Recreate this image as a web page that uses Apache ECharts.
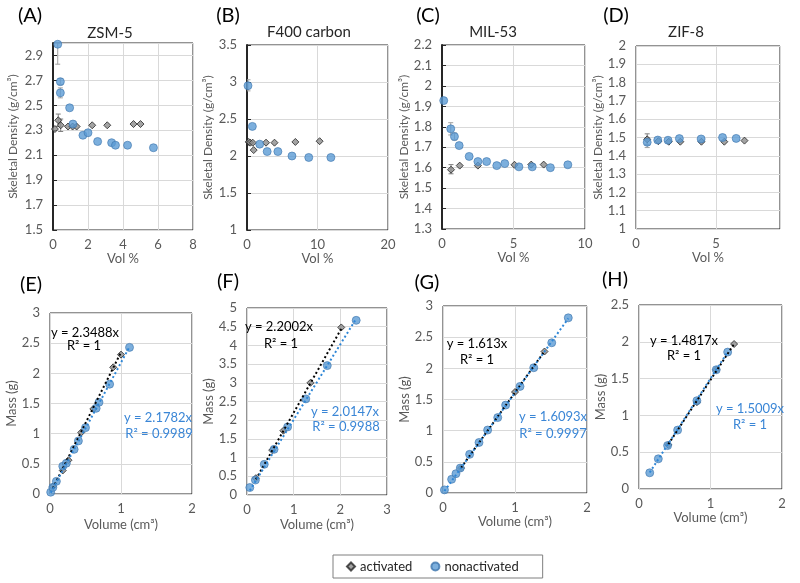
<!DOCTYPE html>
<html>
<head>
<meta charset="utf-8">
<script src="https://cdn.jsdelivr.net/npm/echarts@6/dist/echarts.min.js"></script>
<style>html,body{margin:0;padding:0;background:#fff}#c{width:800px;height:583px}</style>
</head>
<body>
<div id="c"></div>
<script>
// ---------- DATA ----------
// (A) ZSM-5  [vol %, skeletal density]
const zsm5Activated = [[0.11,2.31],[0.3,2.38],[0.44,2.34],[0.86,2.33],[1.12,2.33],[1.35,2.33],[2.24,2.34],[3.1,2.34],[4.6,2.35],[5.0,2.35]];
const zsm5Non = [[0.27,2.99],[0.42,2.69],[0.42,2.6],[0.95,2.48],[1.14,2.35],[1.71,2.26],[2.0,2.28],[2.55,2.21],[3.35,2.2],[3.57,2.18],[4.26,2.18],[5.74,2.16]];
const zsm5ActErr = [[0.3,2.33,2.43],[0.44,2.29,2.39]];
const zsm5NonErr = [[0.27,2.83,3.0],[0.42,2.665,2.715],[0.42,2.56,2.64]];
// (B) F400 carbon
const f400Activated = [[0.24,2.19],[0.45,2.18],[0.81,2.18],[0.95,2.08],[2.7,2.18],[3.9,2.18],[6.86,2.19],[10.3,2.2]];
const f400Non = [[0.14,2.95],[0.76,2.4],[1.8,2.16],[2.86,2.06],[4.38,2.06],[6.38,2.0],[8.76,1.98],[11.9,1.98]];
const f400ActErr = [];
const f400NonErr = [[0.14,2.88,3.03]];
// (C) MIL-53
const mil53Activated = [[0.63,1.59],[1.24,1.61],[2.51,1.61],[5.07,1.614],[6.24,1.615],[7.11,1.615]];
const mil53Non = [[0.12,1.928],[0.61,1.79],[0.87,1.752],[1.2,1.708],[1.9,1.655],[2.51,1.63],[3.12,1.63],[3.83,1.61],[4.39,1.62],[5.38,1.604],[6.31,1.604],[7.58,1.6],[8.8,1.614]];
const mil53ActErr = [[0.63,1.57,1.615]];
const mil53NonErr = [[0.61,1.76,1.82],[0.87,1.735,1.77]];
// (D) ZIF-8
const zif8Activated = [[0.7,1.49],[1.4,1.48],[2.05,1.477],[2.77,1.477],[4.09,1.477],[5.52,1.477],[6.78,1.483]];
const zif8Non = [[0.7,1.474],[1.36,1.486],[2.0,1.485],[2.71,1.494],[4.07,1.492],[5.41,1.5],[6.26,1.495]];
const zif8ActErr = [[0.7,1.46,1.52]];
const zif8NonErr = [[0.7,1.445,1.5]];
// (E)-(H) mass vs volume  [volume cm3, mass g]
const zsm5MassAct = [[0.04,0.12],[0.18,0.39],[0.26,0.56],[0.44,1.02],[0.61,1.41],[0.89,2.1],[1.0,2.31]];
const zsm5MassNon = [[0.01,0.03],[0.04,0.11],[0.09,0.21],[0.18,0.46],[0.23,0.51],[0.34,0.74],[0.4,0.88],[0.5,1.1],[0.65,1.42],[0.69,1.52],[0.84,1.82],[1.12,2.43]];
const f400MassAct = [[0.19,0.45],[0.54,1.2],[0.78,1.72],[1.36,3.0],[2.02,4.48]];
const f400MassNon = [[0.06,0.2],[0.18,0.4],[0.37,0.82],[0.58,1.22],[0.87,1.82],[1.26,2.57],[1.72,3.46],[2.34,4.67]];
const mil53MassAct = [[0.25,0.4],[1.0,1.62],[1.41,2.27]];
const mil53MassNon = [[0.02,0.05],[0.12,0.22],[0.18,0.31],[0.24,0.4],[0.37,0.62],[0.5,0.81],[0.62,1.01],[0.76,1.21],[0.87,1.41],[1.07,1.71],[1.26,2.01],[1.51,2.41],[1.74,2.81]];
const zif8MassAct = [[0.41,0.6],[0.81,1.18],[1.08,1.62],[1.33,1.97]];
const zif8MassNon = [[0.15,0.22],[0.27,0.41],[0.4,0.59],[0.54,0.8],[0.81,1.2],[1.08,1.62],[1.24,1.86]];
// trendline fits
const slopesActivated = [2.3488, 2.2002, 1.613, 1.4817];
const slopesNon = [2.1782, 2.0147, 1.6093, 1.5009];
const r2Activated = ['1', '1', '1', '1'];
const r2Non = ['0.9989', '0.9988', '0.9997', '1'];
// labels
const panelLetters = ['(A)','(B)','(C)','(D)','(E)','(F)','(G)','(H)'];
const panelTitles = ['ZSM-5','F400 carbon','MIL-53','ZIF-8'];
// axis ranges [min, max, interval]
const xRanges = [[0,8,2],[0,20,10],[0,10,5],[0,9,5],[0,2,1],[0,3,1],[0,2,1],[0,2,1]];
const yRanges = [[1.5,3.0,0.2],[1,3.5,0.5],[1.3,2.2,0.1],[1,2,0.1],[0,3,0.5],[0,5,0.5],[0,3,0.5],[0,2.5,0.5]];

// ---------- LAYOUT ----------
const FONT = 'Lato';
const grids = [
  {left:53, top:43, width:140, height:187},
  {left:247, top:45, width:141, height:185},
  {left:442, top:45, width:143, height:184},
  {left:636, top:46, width:144, height:183},
  {left:50, top:313, width:142, height:181},
  {left:247, top:308, width:140, height:187},
  {left:443, top:306, width:144, height:187},
  {left:639, top:305, width:143, height:184}
];
const yNameGap = [34,33,30,31,32,27,28,29];
const xNameGap = [22,22,22,22,24,23,17,20];
const thickY = [true,true,true,false,false,false,false,false];
const letterPos = [[30,16],[228,16],[428,16],[616,16],[31,285],[228,282],[427,283],[615,280]];
const titlePos = [[110,33],[309,32],[493,32],[686,32]];
const blueText = '#3a86d6';
const labelPos = [
  [[85,333],[84,346],[158,418],[159,434]],
  [[279,327],[281,344],[345,412],[346,427]],
  [[477,344],[477,360],[553,417],[553,434]],
  [[684,341],[684,356],[750,409],[750,425]]
];

const actStyle = {color:'#8c8c8c', borderColor:'#262626', borderWidth:1};
const nonStyle = {color:'#5b9bd5', borderColor:'#3f76ad', borderWidth:0.8};

const xAxes = [], yAxes = [], seriesList = [], graphics = [];
const tickText = {color:'#595959', fontFamily:FONT, fontSize:13};
const nameText = {color:'#595959', fontFamily:FONT, fontSize:13};
const longNameText = {color:'#595959', fontFamily:FONT, fontSize:12};
for (let i = 0; i < 8; i++) {
  const isTop = i < 4;
  xAxes.push({
    gridIndex:i, type:'value', min:xRanges[i][0], max:xRanges[i][1], interval:xRanges[i][2],
    name: isTop ? 'Vol %' : 'Volume (cm³)', nameLocation:'middle', nameGap:xNameGap[i],
    nameTextStyle:nameText,
    axisLine:{show:false}, axisTick:{show:false},
    axisLabel:Object.assign({margin:8, showMaxLabel: i !== 3}, tickText),
    splitLine:{show:true, lineStyle:{color:'#d9d9d9', width:1}}
  });
  yAxes.push({
    gridIndex:i, type:'value', min:yRanges[i][0], max:yRanges[i][1], interval:yRanges[i][2],
    name: isTop ? 'Skeletal Density (g/cm³)' : 'Mass (g)', nameLocation:'middle', nameGap:yNameGap[i],
    nameTextStyle: isTop ? longNameText : nameText,
    axisLine:{show:thickY[i], lineStyle:{color:'#262626', width:2}},
    axisTick:{show:thickY[i], inside:true, length:4, lineStyle:{color:'#262626'}},
    axisLabel:Object.assign({margin:10, showMaxLabel: i !== 0}, tickText),
    splitLine:{show:true, lineStyle:{color:'#d9d9d9', width:1}}
  });
  graphics.push({type:'text', x:letterPos[i][0], y:letterPos[i][1],
    style:{text:panelLetters[i], fill:'#000', font:'20px "'+FONT+'"', textAlign:'center', textVerticalAlign:'middle'}});
}
for (let i = 0; i < 4; i++) {
  graphics.push({type:'text', x:titlePos[i][0], y:titlePos[i][1],
    style:{text:panelTitles[i], fill:'#262626', font:'15px "'+FONT+'"', textAlign:'center', textVerticalAlign:'middle'}});
}

function errSeries(i, data, color) {
  return {
    type:'custom', xAxisIndex:i, yAxisIndex:i, data:data, silent:true, z:1, clip:true,
    renderItem:function(params, api){
      const x = api.value(0), lo = api.value(1), hi = api.value(2);
      const p1 = api.coord([x, lo]), p2 = api.coord([x, hi]);
      const c = 2.5, st = {stroke:color, lineWidth:1};
      return {type:'group', children:[
        {type:'line', shape:{x1:p1[0], y1:p1[1], x2:p2[0], y2:p2[1]}, style:st},
        {type:'line', shape:{x1:p1[0]-c, y1:p1[1], x2:p1[0]+c, y2:p1[1]}, style:st},
        {type:'line', shape:{x1:p2[0]-c, y1:p2[1], x2:p2[0]+c, y2:p2[1]}, style:st}
      ]};
    }
  };
}
function scatter(i, name, data, isAct) {
  return {type:'scatter', name:name, xAxisIndex:i, yAxisIndex:i, data:data,
    symbol: isAct ? 'diamond' : 'circle', symbolSize: isAct ? 7 : 8,
    itemStyle: isAct ? actStyle : nonStyle, z: isAct ? 3 : 4, emphasis:{disabled:true}};
}
function trend(i, data, slope, color) {
  const xs = data.map(d => d[0]);
  const x0 = Math.min.apply(null, xs), x1 = Math.max.apply(null, xs);
  return {type:'line', xAxisIndex:i, yAxisIndex:i, data:[[x0, slope*x0],[x1, slope*x1]],
    showSymbol:false, symbol:'none', silent:true, z:5,
    lineStyle:{color:color, width:2, type:[2,2.5]}};
}

const topPanels = [
  [zsm5Activated, zsm5Non, zsm5ActErr, zsm5NonErr],
  [f400Activated, f400Non, f400ActErr, f400NonErr],
  [mil53Activated, mil53Non, mil53ActErr, mil53NonErr],
  [zif8Activated, zif8Non, zif8ActErr, zif8NonErr]
];
topPanels.forEach((p, i) => {
  seriesList.push(errSeries(i, p[2], '#7f7f7f'));
  seriesList.push(errSeries(i, p[3], '#a0a0a0'));
  seriesList.push(scatter(i, 'activated', p[0], true));
  seriesList.push(scatter(i, 'nonactivated', p[1], false));
});
const bottomPanels = [
  [zsm5MassAct, zsm5MassNon],
  [f400MassAct, f400MassNon],
  [mil53MassAct, mil53MassNon],
  [zif8MassAct, zif8MassNon]
];
bottomPanels.forEach((p, k) => {
  const i = k + 4;
  seriesList.push(scatter(i, 'activated', p[0], true));
  seriesList.push(scatter(i, 'nonactivated', p[1], false));
  seriesList.push(trend(i, p[0], slopesActivated[k], '#000'));
  seriesList.push(trend(i, p[1], slopesNon[k], '#2e86d6'));
  const lp = labelPos[k];
  const txt = [
    ['y = ' + slopesActivated[k] + 'x', '#000'],
    ['R² = ' + r2Activated[k], '#000'],
    ['y = ' + slopesNon[k] + 'x', blueText],
    ['R² = ' + r2Non[k], blueText]
  ];
  txt.forEach((t, j) => {
    graphics.push({type:'text', x:lp[j][0], y:lp[j][1], z:10,
      style:{text:t[0], fill:t[1], font:'13px "'+FONT+'"', textAlign:'center', textVerticalAlign:'middle'}});
  });
});

const chart = echarts.init(document.getElementById('c'), null, {renderer:'canvas'});
chart.setOption({
  backgroundColor:'#fff',
  animation:false,
  grid: grids.map(g => Object.assign({show:true, borderColor:'#262626', borderWidth:1, backgroundColor:'transparent'}, g)),
  xAxis:xAxes, yAxis:yAxes, series:seriesList, graphic:graphics,
  legend:{
    data:[{name:'activated', icon:'diamond'}, {name:'nonactivated', icon:'circle'}],
    left:333, top:555, itemWidth:8, itemHeight:8, itemGap:18,
    padding:[5,24,5,13], borderColor:'#7f7f7f', borderWidth:1,
    textStyle:{color:'#262626', fontFamily:FONT, fontSize:13},
    selectedMode:false
  }
});
</script>
</body>
</html>
